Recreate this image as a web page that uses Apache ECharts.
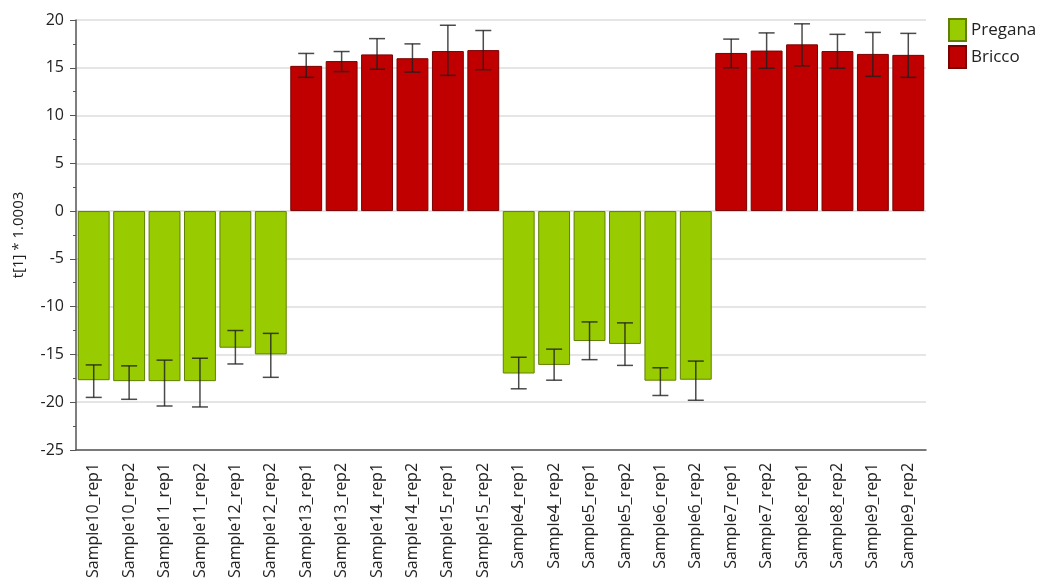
<!DOCTYPE html>
<html><head><meta charset="utf-8">
<script src="https://cdn.jsdelivr.net/npm/echarts@6/dist/echarts.min.js"></script>
<style>html,body{margin:0;padding:0;background:#fff}#c{width:1038px;height:581px}</style>
</head><body><div id="c"></div>
<script>
const categories = ["Sample10_rep1","Sample10_rep2","Sample11_rep1","Sample11_rep2","Sample12_rep1","Sample12_rep2","Sample13_rep1","Sample13_rep2","Sample14_rep1","Sample14_rep2","Sample15_rep1","Sample15_rep2","Sample4_rep1","Sample4_rep2","Sample5_rep1","Sample5_rep2","Sample6_rep1","Sample6_rep2","Sample7_rep1","Sample7_rep2","Sample8_rep1","Sample8_rep2","Sample9_rep1","Sample9_rep2"];
const groups = ["Pregana","Pregana","Pregana","Pregana","Pregana","Pregana","Bricco","Bricco","Bricco","Bricco","Bricco","Bricco","Pregana","Pregana","Pregana","Pregana","Pregana","Pregana","Bricco","Bricco","Bricco","Bricco","Bricco","Bricco"];
const values = [-17.7,-17.8,-17.8,-17.8,-14.3,-15.0,15.2,15.7,16.4,16.0,16.75,16.85,-17.0,-16.1,-13.6,-13.9,-17.75,-17.65,16.55,16.8,17.45,16.75,16.45,16.35];
const errLow = [-19.5,-19.7,-20.4,-20.5,-16.0,-17.4,14.0,14.6,14.85,14.55,14.2,14.8,-18.6,-17.7,-15.55,-16.15,-19.3,-19.8,15.0,14.95,15.2,14.95,14.1,14.0];
const errHigh = [-16.1,-16.2,-15.6,-15.4,-12.5,-12.8,16.5,16.7,18.05,17.5,19.45,18.9,-15.3,-14.45,-11.6,-11.7,-16.4,-15.7,18.0,18.65,19.6,18.5,18.7,18.6];
const seriesNames = ["Pregana","Bricco"];
const yTicks = [-25,-20,-15,-10,-5,0,5,10,15,20];

const colors = {Pregana:{fill:'#99cc00',border:'#5f8000'},Bricco:{fill:'#c00000',border:'#7a0000'}};
const font = "'Open Sans', 'Noto Sans', sans-serif";
const chart = echarts.init(document.getElementById('c'));
const barSeries = seriesNames.map(n => ({
  name: n, type: 'bar', barGap: '-100%', barWidth: '90%',
  data: values.map((v,i) => groups[i] === n ? v : null),
  itemStyle: {color: colors[n].fill, borderColor: colors[n].border, borderWidth: 1},
  emphasis: {disabled: true}
}));
chart.setOption({
  animation: false,
  textStyle: {fontFamily: font},
  grid: {left: 76, right: 112, top: 20, bottom: 128},
  legend: {
    orient: 'vertical', left: 943, top: 13, itemWidth: 17, itemHeight: 22, itemGap: 3,
    icon: 'rect',
    data: seriesNames, textStyle: {fontSize: 17, color: '#222', fontFamily: font}
  },
  xAxis: {
    type: 'category', data: categories, position: 'bottom',
    axisLine: {onZero: false, lineStyle: {color: '#555', width: 1.5}},
    axisTick: {alignWithLabel: true, length: 6, lineStyle: {color: '#555'}},
    axisLabel: {rotate: 90, fontSize: 16, color: '#222', margin: 13, interval: 0},
    splitLine: {show: false}
  },
  yAxis: {
    type: 'value', min: yTicks[0], max: yTicks[yTicks.length-1], interval: 5,
    name: 't[1] * 1.0003', nameLocation: 'middle', nameGap: 50, nameRotate: 90,
    nameTextStyle: {fontSize: 15, color: '#222'},
    axisLine: {show: true, lineStyle: {color: '#555', width: 1.5}},
    axisTick: {show: true, length: 6, lineStyle: {color: '#555'}},
    minorTick: {show: true, splitNumber: 2, length: 3, lineStyle: {color: '#555'}},
    axisLabel: {fontSize: 16, color: '#222', margin: 12},
    splitLine: {lineStyle: {color: '#dcdcdc', width: 1.5}}
  },
  series: barSeries.concat([{
    type: 'custom', name: 'err', silent: true, z: 5,
    data: categories.map((c,i) => [i, errLow[i], errHigh[i]]),
    renderItem: function(params, api) {
      const x = api.value(0);
      const lo = api.coord([x, api.value(1)]);
      const hi = api.coord([x, api.value(2)]);
      const hw = 8;
      const st = {stroke: 'rgba(30,30,30,0.8)', lineWidth: 1.5};
      return {type: 'group', children: [
        {type: 'line', shape: {x1: lo[0], y1: lo[1], x2: hi[0], y2: hi[1]}, style: st},
        {type: 'line', shape: {x1: lo[0]-hw, y1: lo[1], x2: lo[0]+hw, y2: lo[1]}, style: st},
        {type: 'line', shape: {x1: hi[0]-hw, y1: hi[1], x2: hi[0]+hw, y2: hi[1]}, style: st}
      ]};
    }
  }])
});
</script></body></html>
